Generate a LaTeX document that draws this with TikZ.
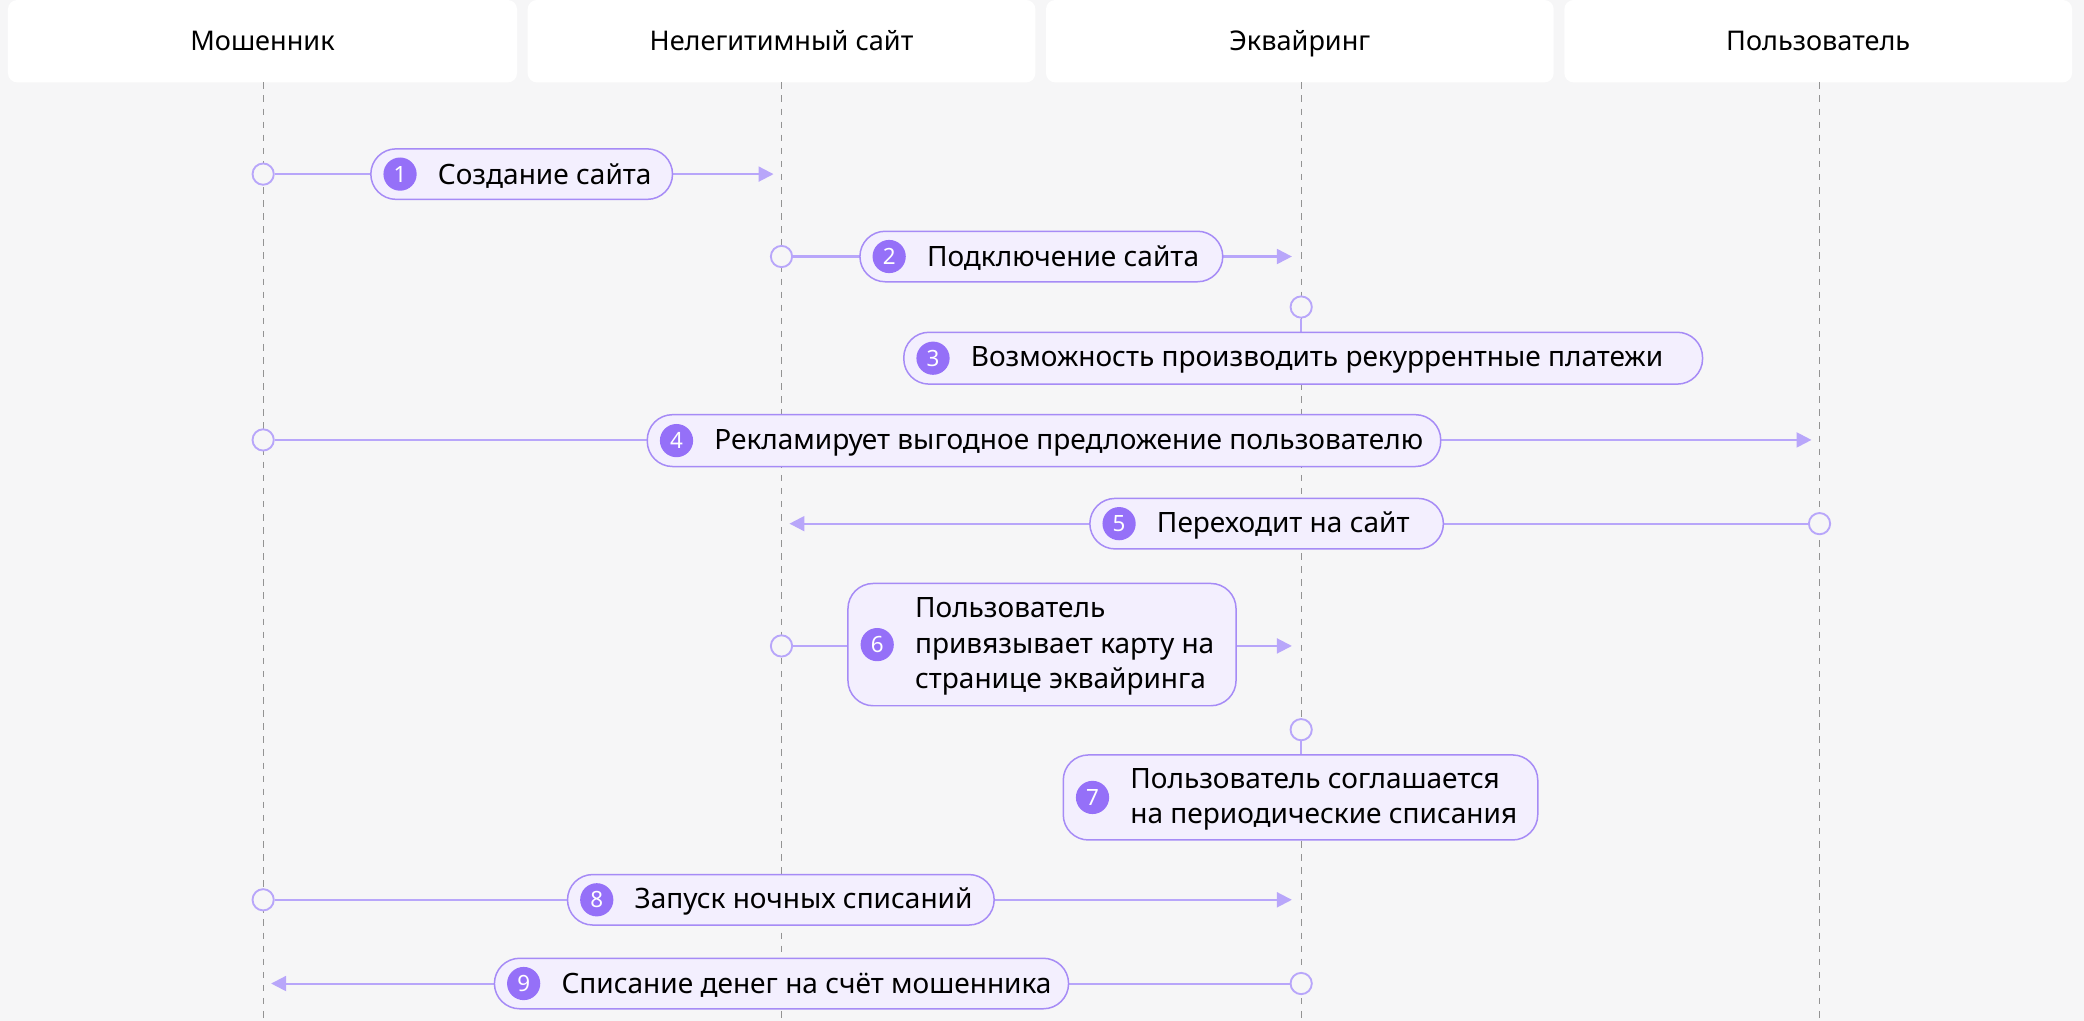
\documentclass[tikz,border=0pt]{standalone}
\usepackage{fontspec}
\setmainfont{Noto Sans}
\usetikzlibrary{arrows.meta}
\definecolor{bg}{HTML}{F6F6F7}
\definecolor{ln}{HTML}{B8A6FA}
\definecolor{bd}{HTML}{A68BF6}
\definecolor{fl}{HTML}{F3EFFE}
\definecolor{bdg}{HTML}{9570F8}
\begin{document}
\begin{tikzpicture}[x=0.05cm,y=-0.05cm,
 hdr/.style={fill=white,rounded corners=0.35cm,draw=none},
 htxt/.style={font=\fontsize{29}{34}\selectfont,text=black,anchor=base},
 life/.style={draw=gray!85,line width=1.2pt,dash pattern=on 7pt off 7pt},
 msg/.style={draw=ln,line width=2.2pt},
 arr/.style={msg,-{Triangle[length=16pt,width=16pt]}},
 lbl/.style={draw=bd,fill=fl,line width=1.6pt,rounded corners=0.95cm},
 ltxt/.style={font=\fontsize{30}{38}\selectfont,text=black,align=left,anchor=west},
 bdg/.style={circle,fill=bdg,text=white,inner sep=0pt,minimum size=1.25cm,font=\bfseries\fontsize{24}{24}\selectfont},
 dot/.style={circle,draw=ln,line width=2pt,fill=bg,minimum size=0.8cm,inner sep=0pt}]
\fill[bg] (0,0) rectangle (1568,768);
\useasboundingbox (0,0) rectangle (1568,768);
% headers
\foreach \a/\b/\t/\n in {6/389/Мошенник/h1,397/779/Нелегитимный сайт/h2,787/1169/Эквайринг/h3,1177/1559/Пользователь/h4}{
 \filldraw[hdr] (\a,0) rectangle (\b,62);
 \node[htxt] (\n) at ({(\a+\b)/2},38) {\t};}
% lifelines
\foreach \x/\n in {198/L1,588/L2,979/L3,1369/L4}{
 \coordinate (\n t) at (\x,62); \coordinate (\n b) at (\x,768);
 \draw[life] (\n t) -- (\n b);}
% generic label macro
\newcommand{\lab}[7]{% name, x1, y1, x2, y2, number, text
 \filldraw[lbl] (#2,#3) rectangle (#4,#5);
 \node[bdg] (#1b) at ({#2+22},{(#3+#5)/2}) {#6};
 \node[ltxt] (#1) at ({#2+48},{(#3+#5)/2+1.5}) {#7};
 \coordinate (#1l) at (#2,{(#3+#5)/2}); \coordinate (#1r) at (#4,{(#3+#5)/2});}
% 1
\node[dot] (s1) at (198,131) {}; \coordinate (e1) at (582,131);
\draw[msg] (s1) -- (279,131); \draw[arr] (506,131) -- (e1);
\lab{m1}{279}{112}{506}{150}{1}{Создание сайта}
% 2
\node[dot] (s2) at (588,193) {}; \coordinate (e2) at (972,193);
\draw[msg] (s2) -- (647,193); \draw[arr] (920,193) -- (e2);
\lab{m2}{647}{174}{920}{212}{2}{Подключение сайта}
% 3
\node[dot] (s3) at (979,231) {};
\draw[msg] (s3) -- (979,250);
\lab{m3}{680}{250}{1281}{289}{3}{Возможность производить рекуррентные платежи}
% 4
\node[dot] (s4) at (198,331) {}; \coordinate (e4) at (1363,331);
\draw[msg] (s4) -- (487,331); \draw[arr] (1084,331) -- (e4);
\lab{m4}{487}{312}{1084}{351}{4}{Рекламирует выгодное предложение пользователю}
% 5
\node[dot] (s5) at (1369,394) {}; \coordinate (e5) at (594,394);
\draw[msg] (s5) -- (1086,394); \draw[arr] (820,394) -- (e5);
\lab{m5}{820}{375}{1086}{413}{5}{Переходит на сайт}
% 6
\node[dot] (s6) at (588,486) {}; \coordinate (e6) at (972,486);
\draw[msg] (s6) -- (638,486); \draw[arr] (930,486) -- (e6);
\lab{m6}{638}{439}{930}{531}{6}{Пользователь\\привязывает карту на\\странице эквайринга}
% 7
\node[dot] (s7) at (979,549) {};
\draw[msg] (s7) -- (979,568);
\lab{m7}{800}{568}{1157}{632}{7}{Пользователь соглашается\\на периодические списания}
% 8
\node[dot] (s8) at (198,677) {}; \coordinate (e8) at (972,677);
\draw[msg] (s8) -- (427,677); \draw[arr] (748,677) -- (e8);
\lab{m8}{427}{658}{748}{696}{8}{Запуск ночных списаний}
% 9
\node[dot] (s9) at (979,740) {}; \coordinate (e9) at (204,740);
\draw[msg] (s9) -- (804,740); \draw[arr] (372,740) -- (e9);
\lab{m9}{372}{721}{804}{759}{9}{Списание денег на счёт мошенника}
\end{tikzpicture}
\end{document}
